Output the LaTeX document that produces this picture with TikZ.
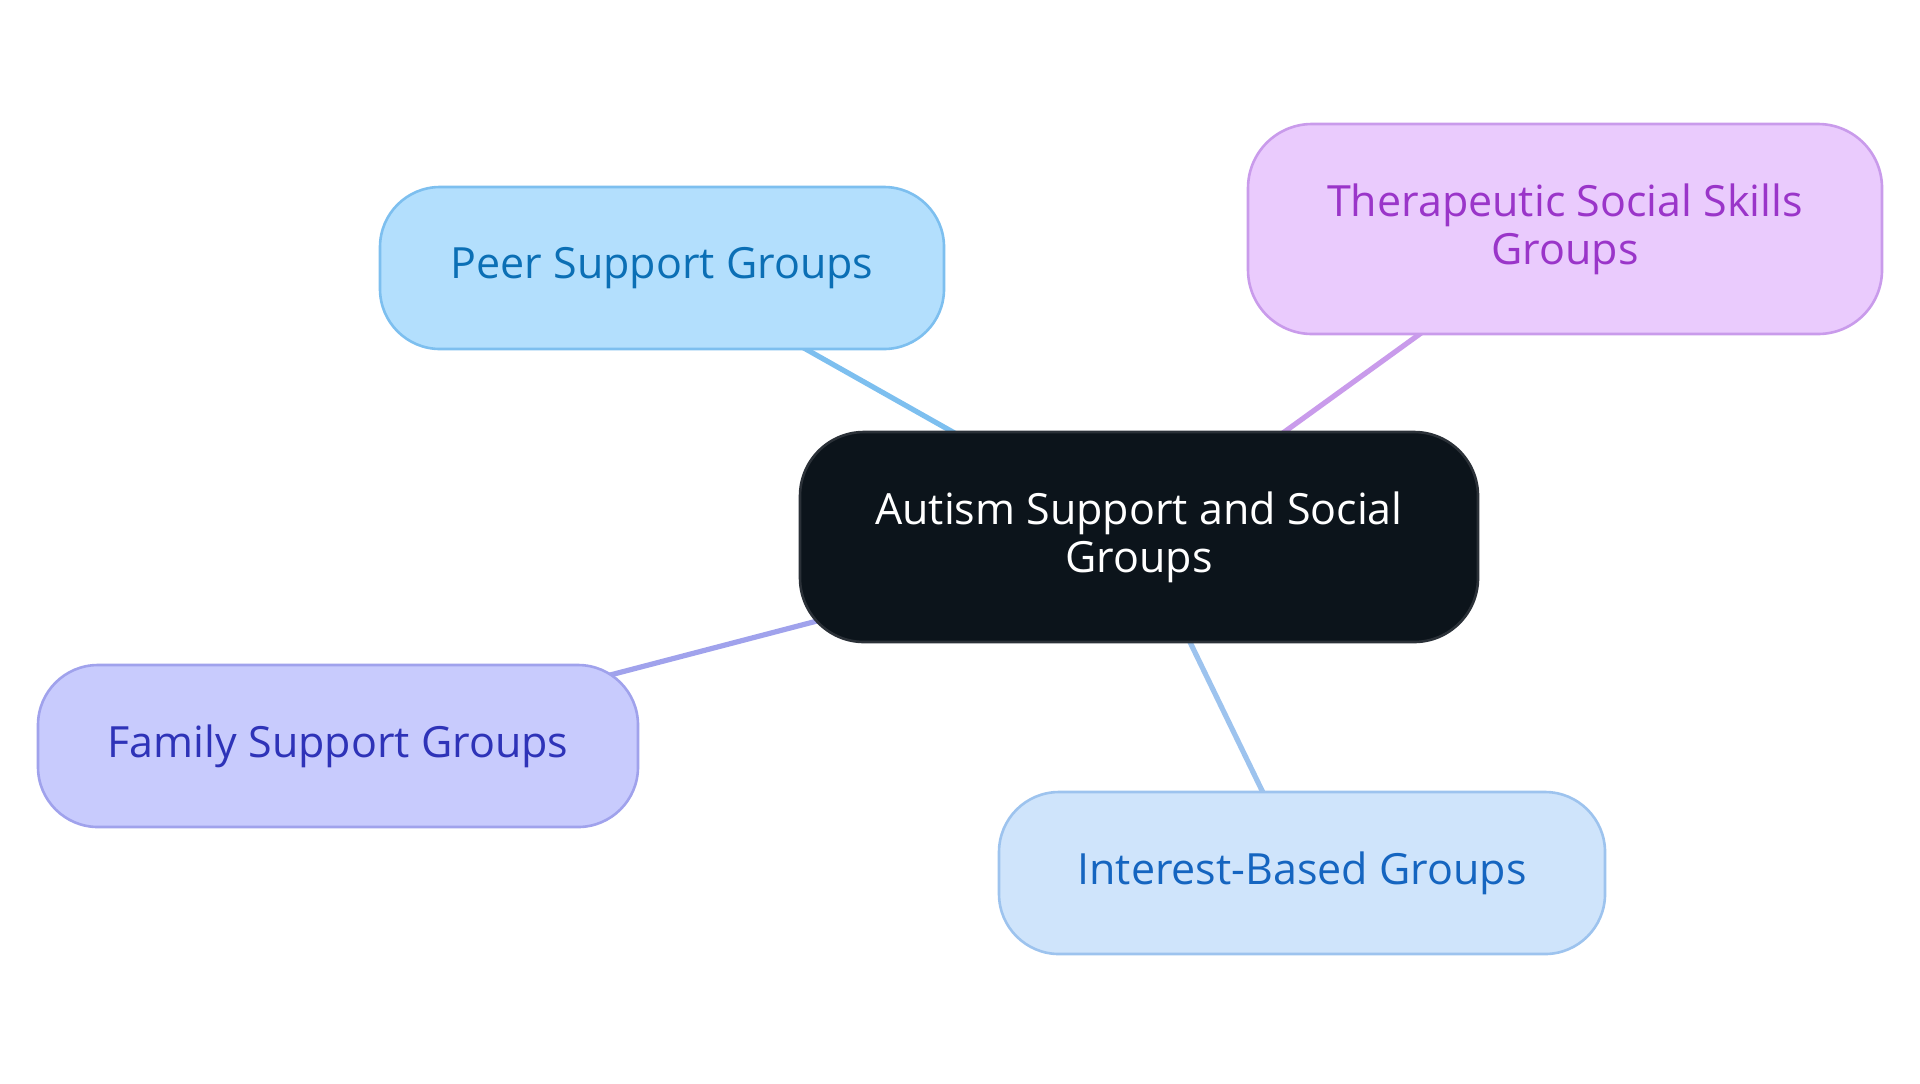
\documentclass[tikz,border=0pt]{standalone}
\usepackage{fontspec}
\setmainfont{Open Sans}
\usetikzlibrary{positioning,backgrounds}
\definecolor{hubFill}{HTML}{0C141B}
\definecolor{hubLine}{HTML}{2B3138}
\definecolor{peerFill}{HTML}{B3DFFD}
\definecolor{peerLine}{HTML}{7DBFEF}
\definecolor{peerText}{HTML}{0B6FB5}
\definecolor{therFill}{HTML}{EACBFD}
\definecolor{therLine}{HTML}{C99BEB}
\definecolor{therText}{HTML}{9A35C9}
\definecolor{famFill}{HTML}{C8CBFD}
\definecolor{famLine}{HTML}{A0A2EC}
\definecolor{famText}{HTML}{2E33B8}
\definecolor{intFill}{HTML}{CFE4FB}
\definecolor{intLine}{HTML}{9DC3EE}
\definecolor{intText}{HTML}{1565C0}
\tikzset{
  hub/.style={rectangle,rounded corners=32pt,draw=hubLine,line width=1.3pt,
              fill=hubFill,text=white,align=center,font=\fontsize{21.5}{24}\selectfont,
              minimum width=339pt,minimum height=105pt},
  leaf/.style={rectangle,rounded corners=30pt,line width=1.3pt,align=center,
              font=\fontsize{21.5}{24}\selectfont,minimum height=81pt},
  link/.style={line width=2.6pt},
}
\begin{document}
\begin{tikzpicture}[x=0.5pt,y=-0.5pt]
  \useasboundingbox (0,0) rectangle (1920,1083);
  \node[hub] (hub) at (1139,537) {Autism Support and Social\\Groups};
  \node[leaf,draw=peerLine,fill=peerFill,text=peerText,minimum width=282pt]
    (peer) at (662,268) {Peer Support Groups};
  \node[leaf,draw=therLine,fill=therFill,text=therText,minimum width=317pt,
    minimum height=105pt,rounded corners=32pt]
    (ther) at (1565,229) {Therapeutic Social Skills\\Groups};
  \node[leaf,draw=famLine,fill=famFill,text=famText,minimum width=300pt]
    (fam) at (338,746) {Family Support Groups};
  \node[leaf,draw=intLine,fill=intFill,text=intText,minimum width=303pt]
    (int) at (1302,873) {Interest-Based Groups};
  % spokes behind the boxes
  \begin{scope}[on background layer]
    \draw[link,peerLine] (hub.center) -- (peer.center);
    \draw[link,therLine] (hub.center) -- (ther.center);
    \draw[link,famLine] (hub.center) -- (fam.center);
    \draw[link,intLine] (hub.center) -- (int.center);
  \end{scope}
\end{tikzpicture}
\end{document}
